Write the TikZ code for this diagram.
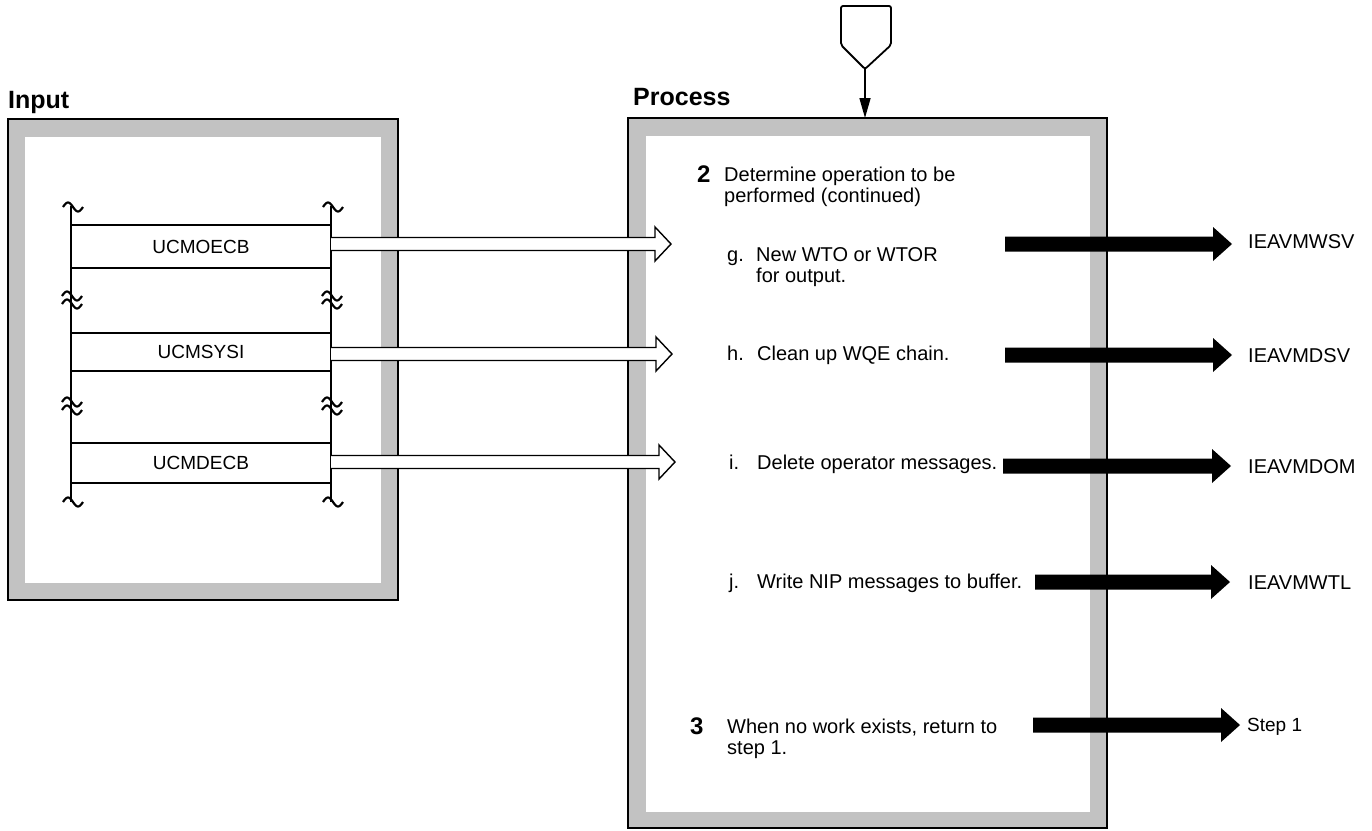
\documentclass[tikz,border=0pt]{standalone}
\usepackage{fontspec}
\setmainfont{Liberation Sans}
\usetikzlibrary{calc,arrows.meta}
\definecolor{panelgray}{gray}{0.76}
\newcommand\mytilde[2]{\draw[line width=2.2pt] plot[domain=-10:10,samples=25] ({#1+\x},{#2+4.5*sin(18*\x)});}
\newcommand\mydtilde[2]{\mytilde{#1}{#2-4}\mytilde{#1}{#2+4}}
\newcommand\harrow[2]{\draw[line width=1.4pt, fill=white, line join=miter] ($(#1)+(0,-6.5)$) -- ($(#2)+(-16,-6.5)$) -- ($(#2)+(-16,-17)$) -- (#2) -- ($(#2)+(-16,17)$) -- ($(#2)+(-16,6.5)$) -- ($(#1)+(0,6.5)$);}
\newcommand\barrow[2]{\fill ($(#1)+(0,-7.5)$) -- ($(#2)+(-19,-7.5)$) -- ($(#2)+(-19,-17)$) -- (#2) -- ($(#2)+(-19,17)$) -- ($(#2)+(-19,7.5)$) -- ($(#1)+(0,7.5)$) -- cycle;}
\begin{document}
\begin{tikzpicture}[x=1pt,y=-1pt,
  txt/.style={inner sep=0pt, anchor=base west, font=\fontsize{20}{24}\selectfont},
  headlbl/.style={inner sep=0pt, anchor=base west, font=\bfseries\fontsize{25}{30}\selectfont},
  num/.style={inner sep=0pt, anchor=base west, font=\bfseries\fontsize{24}{28}\selectfont},
  fld/.style={inner sep=0pt, minimum width=260pt, font=\fontsize{19}{22}\selectfont},
  modlbl/.style={inner sep=0pt, anchor=base west, font=\fontsize{20}{24}\selectfont},
  border/.style={line width=2pt}]
\useasboundingbox (0,0) rectangle (1372,830);

% headings
\node[headlbl] (inlbl) at (8,108) {Input};
\node[headlbl] (prlbl) at (633,105) {Process};

% input panel
\fill[panelgray] (8,119) rectangle (398,600);
\fill[white] (25,137) rectangle (381,583);
\draw[border] (8,119) rectangle (398,600);

% process panel
\fill[panelgray] (628,118) rectangle (1107,828);
\fill[white] (646,136) rectangle (1090,812);
\draw[border] (628,118) rectangle (1107,828);

% off-page connector
\draw[line width=1.8pt, rounded corners=2pt] (841,45) -- (841,6) -- (891,6) -- (891,45) -- (865,69) -- cycle;
\coordinate (conn) at (865,69);
\coordinate (ptop) at (865,118);
\draw[line width=1.5pt, -{Triangle[length=20pt,width=11pt]}] (conn) -- (ptop);

% input fields
\draw[border] (71,206) -- (71,502);
\draw[border] (331,206) -- (331,502);
\node[fld, minimum height=43pt] (f1) at (201,246.5) {UCMOECB};
\node[fld, minimum height=38pt] (f2) at (201,352) {UCMSYSI};
\node[fld, minimum height=40pt] (f3) at (201,463) {UCMDECB};
\foreach \f in {f1,f2,f3}{
  \draw[border] (\f.north west) -- (\f.north east);
  \draw[border] (\f.south west) -- (\f.south east);
}
\mytilde{73}{207}\mytilde{333}{207}
\mydtilde{72}{300}\mydtilde{332}{300}
\mydtilde{72}{406}\mydtilde{332}{406}
\mytilde{73}{502}\mytilde{333}{502}

% process text
\node[num] (n2) at (697,182) {2};
\node[txt] (t2a) at (724,181) {Determine operation to be};
\node[txt] (t2b) at (724,202) {performed (continued)};
\node[txt] (gl) at (727,261) {g.};
\node[txt] (ga) at (756,261) {New WTO or WTOR};
\node[txt] (gb) at (756,282) {for output.};
\node[txt] (hl) at (727,360) {h.};
\node[txt] (ha) at (757,360) {Clean up WQE chain.};
\node[txt] (il) at (729,469) {i.};
\node[txt] (ia) at (757,469) {Delete operator messages.};
\node[txt] (jl) at (729,588) {j.};
\node[txt] (ja) at (757,588) {Write NIP messages to buffer.};
\node[num] (n3) at (690,734) {3};
\node[txt] (t3a) at (727,733) {When no work exists, return to};
\node[txt] (t3b) at (727,754) {step 1.};

% module labels
\node[modlbl] (m1) at (1248,248) {IEAVMWSV};
\node[modlbl] (m2) at (1248,362) {IEAVMDSV};
\node[modlbl] (m3) at (1248,473) {IEAVMDOM};
\node[modlbl] (m4) at (1248,589) {IEAVMWTL};
\node[modlbl, font=\fontsize{19}{22}\selectfont] (m5) at (1247,731) {Step 1};

% hollow input arrows
\coordinate (h1e) at (671,244);
\coordinate (h2e) at (672,354);
\coordinate (h3e) at (675,462);
\coordinate (h1s) at (h1e -| f1.east);
\coordinate (h2s) at (h2e -| f2.east);
\coordinate (h3s) at (h3e -| f3.east);
\harrow{h1s}{h1e}
\harrow{h2s}{h2e}
\harrow{h3s}{h3e}

% black output arrows
\coordinate (b1s) at (1005,244); \coordinate (b1e) at (1232,244);
\coordinate (b2s) at (1005,355); \coordinate (b2e) at (1232,355);
\coordinate (b3s) at (1003,466); \coordinate (b3e) at (1231,466);
\coordinate (b4s) at (1035,582); \coordinate (b4e) at (1230,582);
\coordinate (b5s) at (1033,725); \coordinate (b5e) at (1240,725);
\barrow{b1s}{b1e}
\barrow{b2s}{b2e}
\barrow{b3s}{b3e}
\barrow{b4s}{b4e}
\barrow{b5s}{b5e}
\end{tikzpicture}
\end{document}
